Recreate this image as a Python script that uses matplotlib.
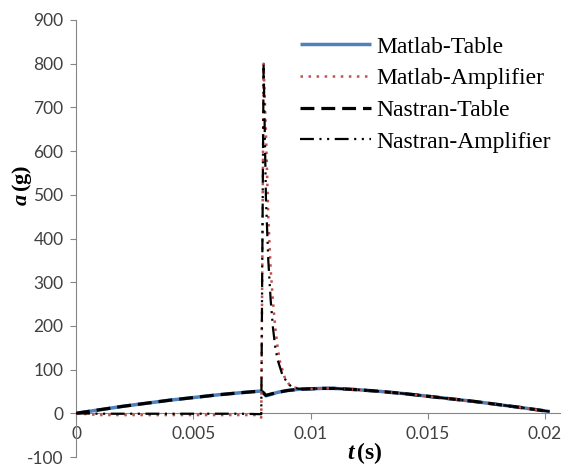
import matplotlib
matplotlib.use("Agg")
import matplotlib.pyplot as plt

plt.rcParams["lines.scale_dashes"] = False
plt.rcParams["axes.unicode_minus"] = False
plt.rcParams["mathtext.fontset"] = "custom"
plt.rcParams["mathtext.it"] = "Liberation Serif:italic:bold"
plt.rcParams["mathtext.rm"] = "Liberation Serif:bold"
plt.rcParams["mathtext.bf"] = "Liberation Serif:bold"

# time base for the table (base excitation) curves, s
t_table = [0.0, 0.001, 0.002, 0.003, 0.004, 0.005, 0.006, 0.007, 0.0079,
           0.0080, 0.0081, 0.0083, 0.0086, 0.0090, 0.0095, 0.0100, 0.0105,
           0.0110, 0.0120, 0.0130, 0.0140, 0.0150, 0.0160, 0.0170, 0.0180,
           0.0190, 0.0202]
a_matlab_table = [0, 8, 16, 23, 30, 36, 42, 47, 51,
                  47, 40, 43, 48, 52, 55, 56, 57,
                  57, 54, 50, 45, 39, 33, 27, 20,
                  13, 4]
a_nastran_table = [0, 8, 16, 23, 30, 36, 42, 47, 51,
                   46, 41, 44, 48, 52, 55, 56, 57,
                   57, 54, 50, 45, 39, 33, 27, 20,
                   13, 4]

# amplifier (table top) curves
t_matlab_amp = [0.0, 0.001, 0.003, 0.005, 0.007, 0.0078, 0.0079, 0.0080,
                0.0081, 0.0082, 0.0083, 0.0084, 0.0085, 0.0086, 0.0087,
                0.0088, 0.0089, 0.0091, 0.0093, 0.0096, 0.0100, 0.0105,
                0.0110, 0.0120, 0.0130, 0.0140, 0.0150, 0.0160, 0.0170,
                0.0180, 0.0190, 0.0202]
a_matlab_amp = [0, -4, -4, -4, -4, -4, -10, 800,
                640, 450, 330, 255, 195, 150, 118,
                100, 82, 65, 59, 56, 56, 57,
                57, 54, 50, 45, 39, 33, 27,
                20, 13, 4]
t_nastran_amp = [0.0, 0.001, 0.003, 0.005, 0.007, 0.0079, 0.0080, 0.00805,
                 0.0081, 0.0082, 0.0083, 0.0084, 0.0085, 0.0086, 0.0087,
                 0.0088, 0.0090, 0.0092, 0.0095, 0.0100, 0.0105,
                 0.0110, 0.0120, 0.0130, 0.0140, 0.0150, 0.0160, 0.0170,
                 0.0180, 0.0190, 0.0202]
a_nastran_amp = [0, -1, -1, -1, -1, -2, 800, 640,
                 490, 350, 260, 195, 150, 122, 105,
                 88, 71, 60, 56, 56, 57,
                 57, 54, 50, 45, 39, 33, 27,
                 20, 13, 4]

labels = ["Matlab-Table", "Matlab-Amplifier", "Nastran-Table", "Nastran-Amplifier"]
x_ticks = [0, 0.005, 0.01, 0.015, 0.02]
x_ticklabels = ["0", "0.005", "0.01", "0.015", "0.02"]
y_ticks = list(range(-100, 1000, 100))

fig = plt.figure(figsize=(5.61, 4.65), dpi=100)
ax = fig.add_axes([76 / 561, 8 / 465, (561 - 76) / 561, (457 - 20) / 465])

ax.plot(t_table, a_matlab_table, color="#4F81BD", lw=2.5, solid_capstyle="butt",
        label=labels[0], zorder=2)
ax.plot(t_table, a_nastran_table, color="black", lw=2.3, ls=(0, (10, 5)),
        label=labels[2], zorder=3)
ax.plot(t_matlab_amp, a_matlab_amp, color="#C0504D", lw=1.8, ls=(0, (1.8, 4.0)),
        label=labels[1], zorder=4)
ax.plot(t_nastran_amp, a_nastran_amp, color="black", lw=1.6,
        ls=(0, (10, 4, 1.5, 4, 1.5, 4)), label=labels[3], zorder=5)

ax.set_xlim(0, (561 - 75) / 23500)
ax.set_ylim(-100, 900)
ax.set_xticks(x_ticks)
ax.set_xticklabels(x_ticklabels)
ax.set_yticks(y_ticks)

for s in ["top", "right"]:
    ax.spines[s].set_visible(False)
ax.spines["bottom"].set_position(("data", 0))
for s in ["left", "bottom"]:
    ax.spines[s].set_color("#868686")
    ax.spines[s].set_linewidth(0.8)
ax.tick_params(direction="out", length=4, width=0.8, color="#868686",
               labelcolor="#404040", labelsize=12.5, pad=5)
for lab in ax.get_xticklabels() + ax.get_yticklabels():
    lab.set_fontfamily("Lato")
ax.patch.set_alpha(0)

h, l = ax.get_legend_handles_labels()
order = [0, 2, 1, 3]
ax.legend([h[i] for i in order], [l[i] for i in order], loc="upper left",
          bbox_to_anchor=(300 / 561, 1 - 36 / 465), bbox_transform=fig.transFigure,
          frameon=False, prop={"family": "Liberation Serif", "size": 17},
          handlelength=3.0, handletextpad=0.25, labelspacing=0.43,
          borderpad=0, borderaxespad=0)

fig.text(365 / 561, 1 - 453 / 465, r"$\mathit{t}\,\mathrm{(s)}$", fontsize=17,
         ha="center", va="center")
fig.text(22 / 561, 1 - 185 / 465, r"$\mathit{a}\,\mathrm{(g)}$", fontsize=16,
         ha="center", va="center", rotation=90)

fig.savefig("out.png", dpi=100)
